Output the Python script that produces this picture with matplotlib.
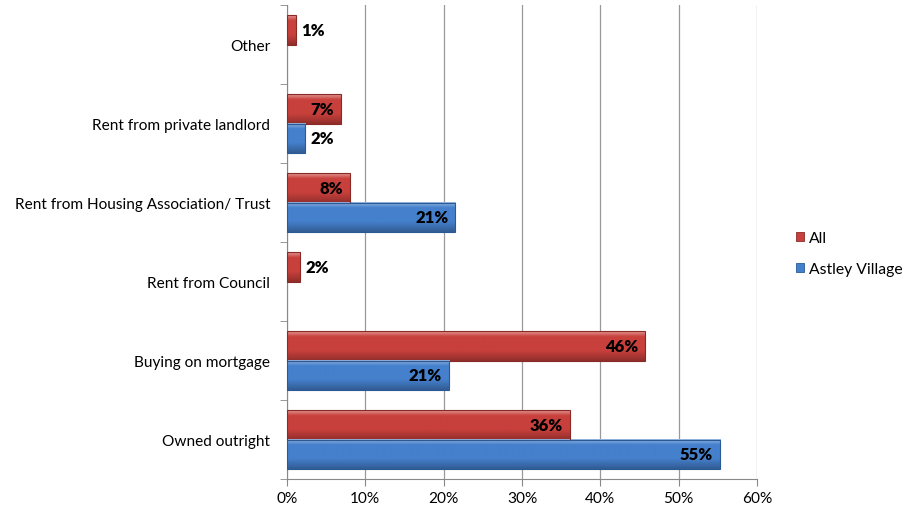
import matplotlib.pyplot as plt
import numpy as np
from matplotlib.colors import to_rgba
from matplotlib.patches import Patch

plt.rcParams['font.family'] = ['Lato', 'DejaVu Sans']

categories = ['Owned outright', 'Buying on mortgage', 'Rent from Council',
              'Rent from Housing Association/ Trust', 'Rent from private landlord', 'Other']
all_vals = [36.1, 45.7, 1.7, 8.0, 6.9, 1.1]
astley_vals = [55.3, 20.7, 0, 21.5, 2.3, 0]
all_labels = ['36%', '46%', '2%', '8%', '7%', '1%']
astley_labels = ['55%', '21%', '', '21%', '2%', '']

red = '#C8403C'
blue = '#4580CC'

fig = plt.figure(figsize=(9.03, 5.10), dpi=100)
ax = fig.add_axes([287/903, 30/510, 470/903, 474/510])

y = np.arange(len(categories))
h = 0.37


def gradient(base, n=60):
    # light highlight along the top edge, darker towards the bottom
    col = np.array(to_rgba(base))
    white = np.ones(4)
    dark = col * 0.72
    img = np.zeros((n, 1, 4))
    for i, t in enumerate(np.linspace(0, 1, n)):
        if t < 0.18:
            c = white * (0.45 - t * 2.5) + col * (0.55 + t * 2.5)
        elif t < 0.65:
            c = col
        else:
            c = col + (dark - col) * (t - 0.65) / 0.35
        c[3] = 1
        img[i, 0] = np.clip(c, 0, 1)
    return img


def shade(bars, base):
    img = gradient(base)
    for b in bars:
        x0, y0, w, hh = b.get_x(), b.get_y(), b.get_width(), b.get_height()
        if w <= 0:
            b.set_visible(False)
            continue
        ax.imshow(img, extent=(x0, x0 + w, y0, y0 + hh), aspect='auto',
                  zorder=3, interpolation='bilinear', origin='upper')


bars_all = ax.barh(y + h / 2, all_vals, height=h, facecolor='none', edgecolor='#8a2a26',
                   linewidth=0.8, zorder=4)
bars_ast = ax.barh(y - h / 2, astley_vals, height=h, facecolor='none', edgecolor='#2a5a96',
                   linewidth=0.8, zorder=4)
shade(bars_all, red)
shade(bars_ast, blue)

for bars, vals, labs in [(bars_all, all_vals, all_labels), (bars_ast, astley_vals, astley_labels)]:
    for b, v, lab in zip(bars, vals, labs):
        if not lab:
            continue
        yc = b.get_y() + b.get_height() / 2
        if v >= 5:
            ax.annotate(lab, (v, yc), xytext=(-5, 0), textcoords='offset points',
                        ha='right', va='center', fontsize=12, fontweight='heavy', zorder=6)
        else:
            ax.annotate(lab, (v, yc), xytext=(4, 0), textcoords='offset points',
                        ha='left', va='center', fontsize=12, fontweight='heavy', zorder=6)

ax.set_xlim(0, 60)
ax.set_ylim(-0.5, len(categories) - 0.5)
ax.set_xticks(np.arange(0, 61, 10))
ax.set_xticklabels([f'{t}%' for t in range(0, 61, 10)])
ax.set_yticks(y)
ax.set_yticklabels(categories)
ax.set_yticks(np.arange(-0.5, len(categories), 1), minor=True)
ax.tick_params(axis='y', which='major', length=0, pad=12, labelsize=11.1)
ax.tick_params(axis='y', which='minor', length=5, color='#888888', direction='out')
ax.tick_params(axis='x', length=5, color='#888888', labelsize=11.1, pad=4)
ax.grid(axis='x', color='#999999', linewidth=0.9, zorder=0)
ax.set_axisbelow(True)
for s in ['top', 'right']:
    ax.spines[s].set_visible(False)
for s in ['left', 'bottom']:
    ax.spines[s].set_color('#888888')

handles = [Patch(facecolor=red, edgecolor='#8a2a26', linewidth=0.6),
           Patch(facecolor=blue, edgecolor='#2a5a96', linewidth=0.6)]
ax.legend(handles, ['All', 'Astley Village'], loc='center left',
          bbox_to_anchor=(1.083, 0.475), frameon=False, fontsize=11.3,
          handlelength=0.5, handleheight=0.5, labelspacing=1.1, handletextpad=0.35,
          borderaxespad=0, borderpad=0)

fig.savefig('out.png', dpi=100)
